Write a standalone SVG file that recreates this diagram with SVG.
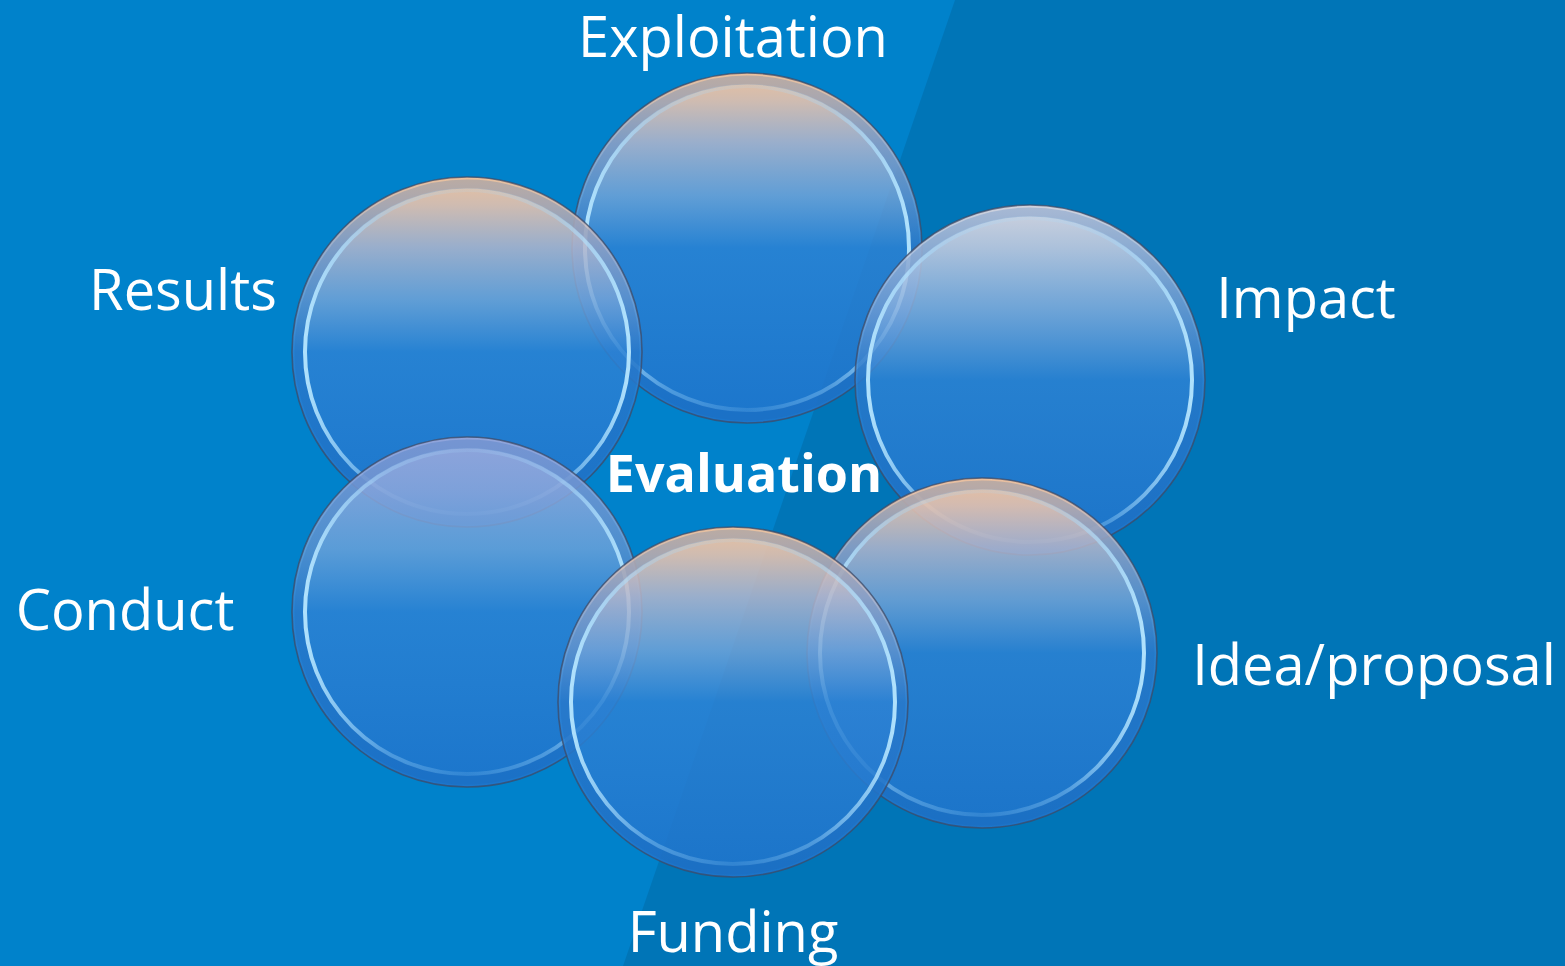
<svg xmlns="http://www.w3.org/2000/svg" width="1565" height="966" viewBox="0 0 1565 966">
  <defs>
    <style>
      .lbl { font-family: "Open Sans", "Liberation Sans", sans-serif; font-size: 56px; fill: #ffffff; }
      .center { font-weight: bold; font-size: 52px; }
      .body { stroke: #3d4a66; stroke-opacity: 0.75; stroke-width: 1.6; }
      .warm { fill: url(#bubbleWarm); }
      .cool { fill: url(#bubbleCool); }
      .pale { fill: url(#bubblePale); }
      .ring { fill: none; stroke: url(#ringStroke); stroke-width: 4; }
      .rim { fill: none; stroke: #1a5fb0; stroke-opacity: 0.22; stroke-width: 9; }
    </style>
    <!-- glassy bubble body: warm tint at the top, fading to solid blue -->
    <linearGradient id="bubbleWarm" x1="0" y1="0" x2="0" y2="1">
      <stop offset="0" stop-color="#f6c49c" stop-opacity="0.95"/>
      <stop offset="0.08" stop-color="#e6c2ae" stop-opacity="0.9"/>
      <stop offset="0.2" stop-color="#b4b6cc" stop-opacity="0.85"/>
      <stop offset="0.35" stop-color="#76a4d8" stop-opacity="0.82"/>
      <stop offset="0.5" stop-color="#2d82d4" stop-opacity="0.85"/>
      <stop offset="1" stop-color="#1f74cc" stop-opacity="0.88"/>
    </linearGradient>
    <!-- same body with a pale, near-white top -->
    <linearGradient id="bubblePale" x1="0" y1="0" x2="0" y2="1">
      <stop offset="0" stop-color="#dcd8e0" stop-opacity="0.95"/>
      <stop offset="0.12" stop-color="#c4cce0" stop-opacity="0.88"/>
      <stop offset="0.3" stop-color="#86aede" stop-opacity="0.82"/>
      <stop offset="0.5" stop-color="#2d82d4" stop-opacity="0.85"/>
      <stop offset="1" stop-color="#1f74cc" stop-opacity="0.88"/>
    </linearGradient>
    <!-- same body with a cool lavender-blue top -->
    <linearGradient id="bubbleCool" x1="0" y1="0" x2="0" y2="1">
      <stop offset="0" stop-color="#9aa8dc" stop-opacity="0.92"/>
      <stop offset="0.15" stop-color="#8fa8dc" stop-opacity="0.85"/>
      <stop offset="0.32" stop-color="#6ea2da" stop-opacity="0.82"/>
      <stop offset="0.5" stop-color="#2d82d4" stop-opacity="0.85"/>
      <stop offset="1" stop-color="#1f74cc" stop-opacity="0.88"/>
    </linearGradient>
    <!-- inner highlight ring, brightest on the sides -->
    <linearGradient id="ringStroke" x1="0" y1="0" x2="1" y2="0">
      <stop offset="0" stop-color="#b6e6ff" stop-opacity="0.95"/>
      <stop offset="0.25" stop-color="#a8dcff" stop-opacity="0.35"/>
      <stop offset="0.5" stop-color="#a8dcff" stop-opacity="0.15"/>
      <stop offset="0.75" stop-color="#a8dcff" stop-opacity="0.35"/>
      <stop offset="1" stop-color="#b6e6ff" stop-opacity="0.95"/>
    </linearGradient>
  </defs>

  <!-- background with diagonal split -->
  <rect x="0" y="0" width="1565" height="966" fill="#0082cb"/>
  <polygon points="955,0 1565,0 1565,966 623,966" fill="#0075b7"/>

  <g id="node-exploitation">
    <circle class="body warm" cx="747" cy="248" r="175"/>
    <circle class="rim" cx="747" cy="248" r="168"/>
    <circle class="ring" cx="747" cy="248" r="162"/>
  </g>
  <g id="node-results">
    <circle class="body warm" cx="467" cy="352" r="175"/>
    <circle class="rim" cx="467" cy="352" r="168"/>
    <circle class="ring" cx="467" cy="352" r="162"/>
  </g>
  <g id="node-impact">
    <circle class="body pale" cx="1030" cy="380" r="175"/>
    <circle class="rim" cx="1030" cy="380" r="168"/>
    <circle class="ring" cx="1030" cy="380" r="162"/>
  </g>
  <g id="node-conduct">
    <circle class="body cool" cx="467" cy="612" r="175"/>
    <circle class="rim" cx="467" cy="612" r="168"/>
    <circle class="ring" cx="467" cy="612" r="162"/>
  </g>
  <g id="node-idea">
    <circle class="body warm" cx="982" cy="653" r="175"/>
    <circle class="rim" cx="982" cy="653" r="168"/>
    <circle class="ring" cx="982" cy="653" r="162"/>
  </g>
  <g id="node-funding">
    <circle class="body warm" cx="733" cy="702" r="175"/>
    <circle class="rim" cx="733" cy="702" r="168"/>
    <circle class="ring" cx="733" cy="702" r="162"/>
  </g>

  <g id="connectors"></g>

  <g id="labels">
    <text class="lbl" x="733" y="57" text-anchor="middle">Exploitation</text>
    <text class="lbl" x="183" y="310" text-anchor="middle">Results</text>
    <text class="lbl" x="1306" y="318" text-anchor="middle">Impact</text>
    <text class="lbl" x="125" y="630" text-anchor="middle">Conduct</text>
    <text class="lbl" x="1374" y="685" text-anchor="middle">Idea/proposal</text>
    <text class="lbl" x="733" y="952" text-anchor="middle">Funding</text>
    <text class="lbl center" x="744" y="492" text-anchor="middle">Evaluation</text>
  </g>
</svg>
